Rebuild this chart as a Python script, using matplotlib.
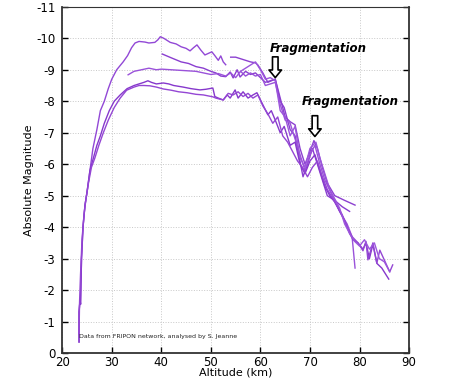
import numpy as np
import matplotlib
matplotlib.use("Agg")
import matplotlib.pyplot as plt

plt.rcParams["axes.unicode_minus"] = False

# Light curves: altitude (km) vs absolute magnitude
alt_a = [23.4, 23.4, 23.6, 23.7, 23.9, 24.2, 24.6, 25.0, 25.6, 26.2, 27.0, 27.7, 28.5,
         29.3, 30.0, 31.0, 32.3, 33.2, 34.0, 34.7, 35.5, 36.7, 37.5, 38.7, 39.3, 39.8,
         40.5, 41.8, 43.0, 44.0, 45.0, 45.8, 46.5, 47.2, 48.0, 48.8, 49.5, 50.2, 50.8,
         51.5, 52.0, 52.5, 53.0]
mag_a = [-0.35, -1.3, -1.7, -1.55, -3.0, -4.0, -4.7, -5.1, -5.8, -6.5, -7.1, -7.7, -8.0,
         -8.4, -8.7, -9.0, -9.25, -9.45, -9.7, -9.85, -9.9, -9.88, -9.85, -9.87, -9.95, -10.05,
         -10.0, -9.87, -9.82, -9.73, -9.68, -9.6, -9.7, -9.79, -9.62, -9.47, -9.52, -9.57, -9.45,
         -9.3, -9.44, -9.25, -9.16]

alt_b = [40.2, 42.0, 44.0, 45.5, 47.0, 48.5, 50.0, 51.0, 52.0, 53.0, 53.9, 54.5, 55.3,
         55.9, 57.0, 58.0, 59.0, 60.0, 61.0, 62.0, 63.0, 64.0, 64.8, 66.0, 67.0, 68.6,
         69.5, 70.5, 71.5, 72.5, 73.5, 75.0, 76.5, 78.0]
mag_b = [-9.5, -9.38, -9.25, -9.2, -9.1, -9.05, -8.95, -8.9, -8.8, -8.78, -8.93, -8.74, -9.0,
         -8.77, -8.95, -8.85, -8.9, -8.75, -8.6, -8.65, -8.7, -8.0, -7.8, -7.1, -6.9, -5.6,
         -6.0, -6.5, -6.0, -5.5, -5.0, -4.85, -4.65, -4.5]

alt_c = [33.3, 34.5, 36.0, 37.5, 39.0, 40.0, 42.0, 44.0, 45.0, 47.0, 48.5, 50.0, 51.5,
         53.0, 54.0, 55.0, 56.0, 57.0, 58.0, 59.0, 60.0, 61.0, 62.0, 63.0, 64.0, 65.0,
         66.0, 67.0, 68.0, 69.0, 70.0, 71.0, 72.0, 73.0, 74.5, 76.0, 77.5, 78.5, 79.1]
mag_c = [-8.84, -8.95, -9.0, -9.05, -9.0, -9.02, -9.0, -8.98, -8.97, -8.95, -8.9, -8.85, -8.88,
         -8.8, -8.9, -8.75, -8.95, -8.8, -8.9, -8.8, -8.85, -8.5, -8.55, -8.6, -7.9, -7.4,
         -7.3, -6.8, -6.3, -5.8, -6.3, -6.6, -6.0, -5.5, -5.0, -4.5, -4.1, -3.7, -2.7]

alt_d = [23.4, 23.4, 23.6, 23.7, 23.9, 24.2, 24.6, 25.0, 25.6, 26.3, 27.0, 27.7, 28.5,
         29.5, 30.5, 31.7, 33.1, 34.5, 35.5, 36.5, 37.3, 38.0, 39.0, 40.4, 41.5, 42.5,
         44.4, 46.0, 47.8, 49.0, 50.4, 50.8, 51.5, 52.5, 53.3, 53.9, 54.9, 55.5, 56.5,
         57.5, 58.5, 59.3, 60.3, 61.5, 62.2, 63.0, 64.0, 64.8, 66.0, 67.0, 68.0, 69.0,
         70.0, 71.0, 72.0, 73.0, 74.0, 75.0, 76.0, 77.0, 78.0, 78.7, 79.7, 80.7, 81.3,
         82.0, 82.7, 83.5, 84.5, 85.9]
mag_d = [-0.35, -1.3, -1.7, -1.55, -3.0, -4.0, -4.7, -5.1, -5.8, -6.2, -6.6, -6.9, -7.3,
         -7.7, -8.0, -8.2, -8.4, -8.5, -8.55, -8.6, -8.65, -8.6, -8.55, -8.58, -8.55, -8.5,
         -8.45, -8.4, -8.36, -8.38, -8.42, -8.15, -8.1, -8.04, -8.2, -8.1, -8.36, -8.1, -8.3,
         -8.1, -8.2, -8.27, -7.95, -7.57, -7.7, -7.4, -7.0, -7.2, -6.6, -6.7, -6.0, -5.7,
         -6.1, -6.3, -5.8, -5.3, -5.0, -4.8, -4.5, -4.2, -3.8, -3.6, -3.5, -3.3, -3.5,
         -3.0, -3.45, -2.85, -2.7, -2.35]

alt_e = [23.4, 23.5, 23.7, 24.0, 24.4, 24.8, 25.3, 25.9, 26.6, 27.4, 28.3, 29.3, 30.5,
         31.7, 33.0, 34.5, 35.5, 36.5, 37.7, 39.0, 40.4, 42.0, 43.5, 45.2, 47.0, 48.5,
         50.4, 51.0, 52.5, 53.5, 54.5, 55.5, 56.5, 57.5, 58.5, 59.5, 60.5, 61.5, 62.5,
         63.5, 64.5, 65.5, 66.5, 67.5, 68.5, 69.5, 70.5, 71.5, 72.5, 73.5, 75.0, 76.5,
         77.5, 78.5, 79.7, 80.7, 81.3, 81.7, 82.7, 83.5, 84.1, 85.0, 86.1, 86.7]
mag_e = [-0.6, -1.6, -2.5, -3.6, -4.4, -4.9, -5.4, -5.9, -6.2, -6.6, -7.0, -7.4, -7.8,
         -8.1, -8.35, -8.45, -8.5, -8.5, -8.49, -8.45, -8.39, -8.35, -8.3, -8.27, -8.22, -8.2,
         -8.14, -8.1, -8.04, -8.25, -8.2, -8.3, -8.15, -8.25, -8.1, -8.2, -7.85, -7.6, -7.3,
         -7.5, -6.9, -6.7, -6.4, -6.1, -5.9, -5.6, -5.9, -6.1, -5.6, -5.2, -4.8, -4.4,
         -4.0, -3.7, -3.5, -3.25, -3.55, -2.96, -3.5, -2.86, -3.27, -2.96, -2.58, -2.8]

alt_f = [54.0, 55.0, 56.0, 57.0, 58.0, 59.0, 59.5, 60.5, 61.5, 62.2, 63.0, 64.0, 65.0,
         66.0, 67.0, 68.0, 69.0, 70.0, 70.8, 71.5, 72.5, 73.5, 75.0, 77.0, 79.1]
mag_f = [-9.4, -9.4, -9.35, -9.3, -9.25, -9.22, -9.15, -8.9, -8.6, -8.65, -8.7, -8.1, -7.5,
         -7.35, -7.25, -6.5, -6.0, -6.4, -6.75, -6.5, -5.9, -5.4, -5.0, -4.85, -4.7]

alt_g = [56.0, 57.0, 58.0, 59.0, 60.0, 61.0, 62.0, 63.0, 64.0, 65.0, 66.0, 67.0, 68.0,
         69.0, 70.0, 71.2, 72.0, 73.0, 74.0, 75.0, 76.0, 77.0, 78.0, 79.0, 80.0, 81.0,
         82.0, 83.0, 84.0, 85.0, 86.1]
mag_g = [-8.95, -9.05, -9.15, -9.25, -9.0, -8.7, -8.75, -8.65, -7.7, -7.5, -6.9, -7.2, -6.2,
         -5.9, -6.5, -6.7, -6.2, -5.7, -5.2, -4.9, -4.6, -4.1, -3.8, -3.55, -3.4, -3.6,
         -3.3, -3.5, -3.0, -2.9, -2.58]

curves = [(alt_a, mag_a), (alt_b, mag_b), (alt_c, mag_c), (alt_d, mag_d),
          (alt_e, mag_e), (alt_f, mag_f), (alt_g, mag_g)]
colors = ["#9248d6", "#8a3ed0", "#9a52da", "#8638cc", "#9446d4", "#8c40d0", "#9c56dc"]

frag_alt = [63.0, 71.0]
frag_mag = [-8.75, -6.88]

fig = plt.figure(figsize=(4.54, 3.78), dpi=100)
ax = fig.add_axes([0.137, 0.066, 0.764, 0.916])

for (x, y), c in zip(curves, colors):
    ax.plot(x, y, color=c, linewidth=1.0)

# Fragmentation markers
for fx, fy, tx, ty in zip(frag_alt, frag_mag, [61.8, 68.3], [-9.68, -7.98]):
    ax.annotate("", xy=(fx, fy), xytext=(fx, fy - 0.66),
                arrowprops=dict(arrowstyle="simple,head_width=0.9,head_length=0.55,tail_width=0.4",
                                fc="white", ec="black", lw=1.2, shrinkA=0, shrinkB=0))
    ax.text(tx, ty, "Fragmentation", fontsize=8.5, fontweight="bold", fontstyle="italic",
            ha="left", va="center")

ax.text(23.3, -0.52, "Data from FRIPON network, analysed by S. Jeanne", fontsize=4.5,
        ha="left", va="center", color="#222222")

ax.set_xlim(20, 90)
ax.set_ylim(0, -11)
ax.set_xticks(range(20, 91, 10))
ax.set_yticks(range(0, -12, -1))
ax.set_xlabel("Altitude (km)", fontsize=8, labelpad=-1)
ax.set_ylabel("Absolute Magnitude", fontsize=8, labelpad=1)
ax.tick_params(direction="in", right=True, top=False, labelsize=8.5, length=4, width=1)
ax.tick_params(axis="x", pad=2)
ax.tick_params(axis="y", pad=5)
ax.grid(True, linestyle=":", linewidth=0.7, color="#c8c8c8")
for s in ax.spines.values():
    s.set_linewidth(1.3)
    s.set_color("#333333")
ax.spines["top"].set_linewidth(0.8)

fig.savefig("out.png", dpi=100)
